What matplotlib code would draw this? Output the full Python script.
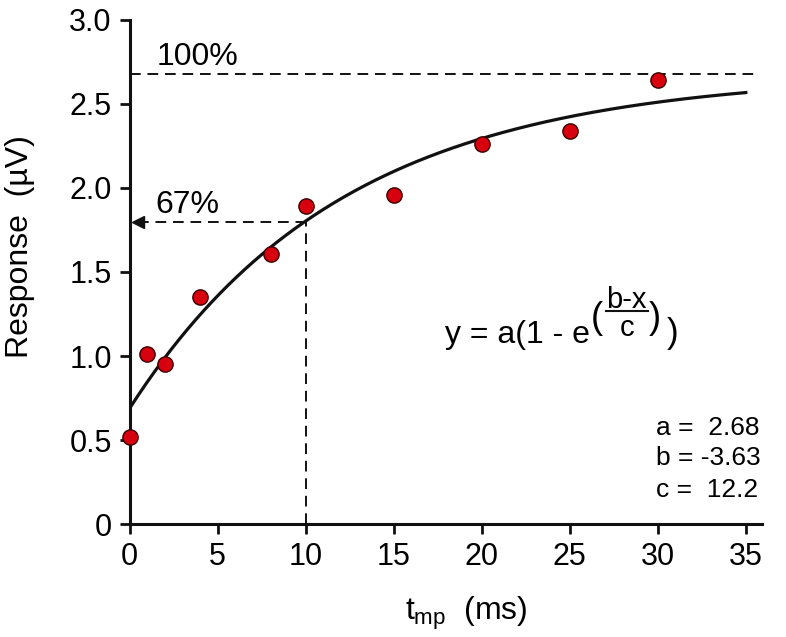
import numpy as np
import matplotlib
matplotlib.use("Agg")
import matplotlib.pyplot as plt
import matplotlib.transforms as mtransforms

# ---- data ----
t_ms = [0, 1, 2, 4, 8, 10, 15, 20, 25, 30]
response_uv = [0.52, 1.01, 0.95, 1.35, 1.61, 1.89, 1.96, 2.26, 2.34, 2.64]

# fit parameters printed on the chart
fit_a = 2.68
fit_b = -3.63
fit_c = 12.2

x_ticks = [0, 5, 10, 15, 20, 25, 30, 35]
y_ticks = [0, 0.5, 1.0, 1.5, 2.0, 2.5, 3.0]
y_ticklabels = ["0", "0.5", "1.0", "1.5", "2.0", "2.5", "3.0"]

level_100 = fit_a
level_67 = 1.80
t_67 = 10

plt.rcParams["font.family"] = ["Liberation Sans", "DejaVu Sans"]
plt.rcParams["mathtext.fontset"] = "custom"
plt.rcParams["mathtext.rm"] = "Liberation Sans"
plt.rcParams["mathtext.it"] = "Liberation Sans"

INK = "#111111"

fig = plt.figure(figsize=(7.86, 6.37), dpi=100)
ax = fig.add_axes([0.165, 0.177, 0.804, 0.792])

# ---- fitted curve ----
xs = np.linspace(0, 35, 300)
ys = fit_a * (1 - np.exp((fit_b - xs) / fit_c))
ax.plot(xs, ys, color=INK, lw=2.3, zorder=3)

# ---- guide lines ----
dash = (0, (5.5, 3.5))
ax.plot([0, 35.5], [level_100, level_100], color=INK, lw=1.4, linestyle=dash, zorder=2)
ax.plot([0.5, t_67], [level_67, level_67], color=INK, lw=1.4, linestyle=dash, zorder=2)
ax.plot([t_67, t_67], [0, level_67], color=INK, lw=1.4, linestyle=dash, zorder=2)
ax.plot([0.45], [level_67], marker="<", color=INK, markersize=8, zorder=4, clip_on=False)

# ---- data points ----
ax.plot(t_ms, response_uv, linestyle="none", marker="o", markersize=11,
        markerfacecolor="#d7000f", markeredgecolor="#3a0000", markeredgewidth=1.0,
        zorder=5, clip_on=False)

# ---- annotations ----
ax.text(1.55, 2.73, "100%", fontsize=23, ha="left", va="baseline")
ax.text(1.45, 1.85, "67%", fontsize=23, ha="left", va="baseline")

# formula built from pieces (offsets in points from its baseline start)
fx, fy = 17.9, 1.08
fs = 23
pts = mtransforms.Affine2D().scale(fig.dpi / 72) + \
    mtransforms.ScaledTranslation(fx, fy, ax.transData)

def piece(s, dx, dy, size=fs, ha="left"):
    ax.text(dx, dy, s, transform=pts, fontsize=size, ha=ha, va="baseline")

piece("y = a(1 - e", 0, 0)
piece("(", 105, 10.5, size=26)
piece("b-x", 131, 25, size=21, ha="center")
piece("c", 131, 5, size=21, ha="center")
piece(")", 147, 10.5, size=26)
piece(")", 160, 0, size=25)
ax.plot([116, 146], [22.5, 22.5], transform=pts, color=INK, lw=1.5)

ax.text(29.9, 0.53, "a =  2.68", fontsize=19, ha="left", va="baseline")
ax.text(29.9, 0.355, "b = -3.63", fontsize=19, ha="left", va="baseline")
ax.text(29.9, 0.16, "c =  12.2", fontsize=19, ha="left", va="baseline")

# ---- axes ----
ax.set_xlim(0, 35.9)
ax.set_ylim(0, 3.0)
ax.set_xticks(x_ticks)
ax.set_yticks(y_ticks)
ax.set_yticklabels(y_ticklabels)
for s in ["top", "right"]:
    ax.spines[s].set_visible(False)
for s in ["left", "bottom"]:
    ax.spines[s].set_linewidth(2.2)
    ax.spines[s].set_color(INK)
ax.tick_params(axis="both", direction="out", length=7, width=2.0, color=INK,
               labelsize=22, pad=6)
ax.set_xlabel(r"$t_{mp}$  (ms)", fontsize=23)
ax.set_ylabel("Response  (µV)", fontsize=23)
ax.xaxis.set_label_coords(0.532, -0.14)
ax.yaxis.set_label_coords(-0.15, 0.55)

fig.savefig("out.png", dpi=100)
